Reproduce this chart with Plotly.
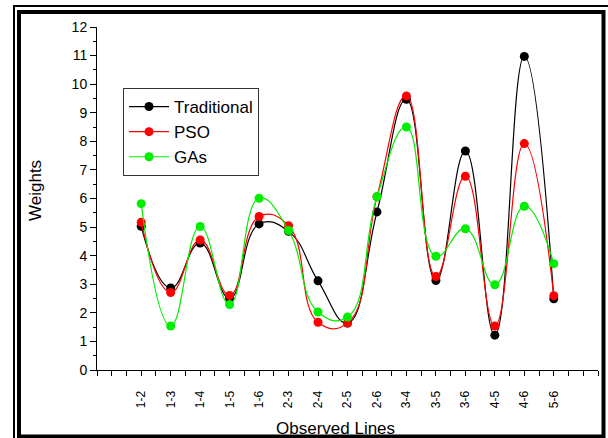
import plotly.graph_objects as go

categories = ["1-2", "1-3", "1-4", "1-5", "1-6", "2-3", "2-4", "2-5", "2-6",
              "3-4", "3-5", "3-6", "4-5", "4-6", "5-6"]
traditional = [5.03, 2.87, 4.44, 2.51, 5.11, 4.85, 3.12, 1.64, 5.53, 9.47, 3.13, 7.66, 1.22, 10.97, 2.49]
pso = [5.17, 2.71, 4.55, 2.61, 5.37, 5.05, 1.67, 1.64, 6.06, 9.59, 3.27, 6.78, 1.54, 7.92, 2.60]
gas = [5.82, 1.54, 5.02, 2.29, 6.01, 4.88, 2.03, 1.85, 6.06, 8.50, 3.98, 4.94, 2.98, 5.73, 3.72]
y_ticks = list(range(0, 13))

W, H = 608, 438
L, R, T, B = 97, 10, 27, 68
pw, ph = W - L - R, H - T - B

def px(x):
    return (x - L) / pw

def py(y):
    return (H - B - y) / ph

xs = list(range(len(categories)))
FONT = "Liberation Sans, Arial, sans-serif"

fig = go.Figure()
for name, vals, col in [("Traditional", traditional, "#000000"),
                        ("PSO", pso, "#FF0000"),
                        ("GAs", gas, "#00EE00")]:
    fig.add_trace(go.Scatter(
        x=xs, y=vals, name=name, mode="lines+markers",
        line=dict(color=col, width=1.2, shape="spline", smoothing=1.3),
        marker=dict(color=col, size=9, symbol="circle"),
    ))

fig.update_layout(
    width=W, height=H,
    margin=dict(l=L, r=R, t=T, b=B, pad=0),
    paper_bgcolor="white", plot_bgcolor="white",
    font=dict(family=FONT, color="black"),
    showlegend=True,
    legend=dict(x=px(123), y=py(88), xanchor="left", yanchor="top",
                bgcolor="white", bordercolor="#333333", borderwidth=1,
                font=dict(size=17, family=FONT), tracegroupgap=0,
                itemwidth=40),
    xaxis=dict(range=[-1.5, 15.5], tickvals=xs, ticktext=categories,
               tickangle=-90, tickfont=dict(size=12),
               showline=True, linecolor="black", linewidth=1,
               ticks="outside", ticklen=5, tickcolor="black", tickwidth=1,
               minor=dict(dtick=0.5, tick0=-1.5, ticks="outside", ticklen=5,
                          tickcolor="black", tickwidth=1),
               showgrid=False, zeroline=False, ticklabelstandoff=10),
    yaxis=dict(range=[0, 12], tickvals=y_ticks, tickfont=dict(size=14),
               showline=True, linecolor="black", linewidth=1,
               ticks="outside", ticklen=6, tickcolor="black", tickwidth=1,
               minor=dict(dtick=0.5, tick0=0, ticks="outside", ticklen=3,
                          tickcolor="black", tickwidth=1),
               showgrid=False, zeroline=False),
)

fig.add_annotation(text="Observed Lines", x=px(335), y=py(428), xref="paper", yref="paper",
                   xanchor="center", yanchor="middle",
                   showarrow=False, font=dict(size=17, family=FONT))
fig.add_annotation(text="Weights", x=px(35), y=py(191), xref="paper", yref="paper",
                   xanchor="center", yanchor="middle",
                   showarrow=False, textangle=-90, font=dict(size=17, family=FONT))

# double frame
fig.add_shape(type="line", xref="paper", yref="paper", x0=px(13), x1=px(610), y0=py(6), y1=py(6),
              line=dict(color="black", width=2))
fig.add_shape(type="line", xref="paper", yref="paper", x0=px(14), x1=px(14), y0=py(5), y1=py(440),
              line=dict(color="black", width=2))
fig.add_shape(type="rect", xref="paper", yref="paper", x0=px(19), x1=px(603.5), y0=py(12), y1=py(436.5),
              line=dict(color="black", width=4))

fig.write_html("out.html", config={"displayModeBar": False},
               post_script="document.body.style.margin='0';document.body.style.overflow='hidden';")
